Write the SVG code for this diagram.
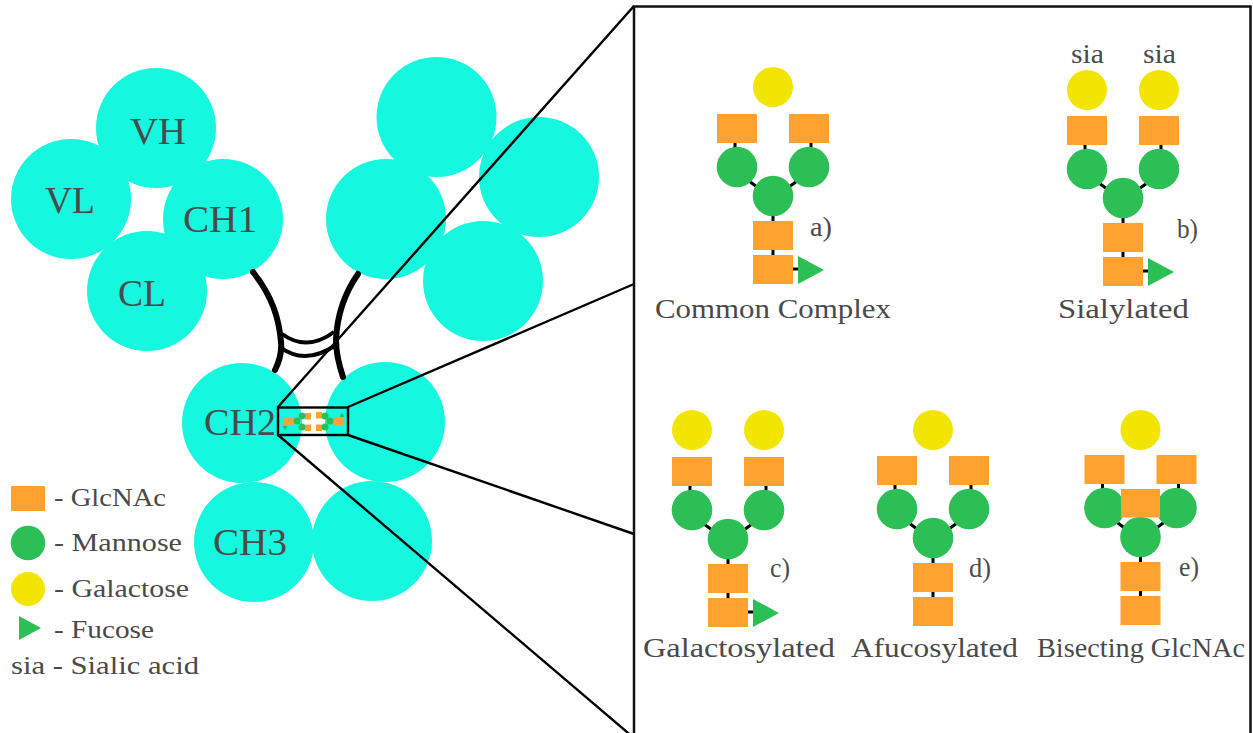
<svg xmlns="http://www.w3.org/2000/svg" xmlns:xlink="http://www.w3.org/1999/xlink" width="1253" height="733" viewBox="0 0 1253 733">
<style>
text{font-family:"Liberation Serif","DejaVu Serif",serif;fill:#4a4a4a}
.dom{fill:#16f7df}
.big{font-size:37px}
.cap{font-size:27px}
.leg{font-size:25px}
.tag{font-size:27px}
.glc{fill:#ffa230}
.man{fill:#2cbf55}
.gal{fill:#f2e500}
.fuc{fill:#2cbf55}
.bond{fill:none;stroke:#000;stroke-width:3}
.arm{fill:none;stroke:#000;stroke-width:6;stroke-linecap:round}
.brg{fill:none;stroke:#000;stroke-width:4}
.zoom{fill:none;stroke:#000;stroke-width:2.400}
</style>
<defs>
<!-- Shared glycan parts, placed around the core mannose of the first structure -->
<g id="core">
<rect class="glc" x="717" y="114" width="40" height="29"/>
<rect class="glc" x="789" y="114" width="40" height="29"/>
<circle class="man" cx="737" cy="167" r="20.300"/>
<circle class="man" cx="809" cy="167" r="20.300"/>
<circle class="man" cx="773" cy="196" r="20.300"/>
<rect class="glc" x="753" y="221" width="40" height="29"/>
<rect class="glc" x="753" y="255" width="40" height="29"/>
</g>
<path id="bonds" class="bond" d="M735 143V150M811 143V150M749 181L761 190M797 181L785 190M773 216V221M773 250V255"/>
<path id="fucose-bond" class="bond" d="M793 269H799"/>
<polygon id="fucose" class="fuc" points="798,256 824,270 798,284"/>
<circle id="galactose" class="gal" cx="773" cy="87" r="20"/>
</defs>

<g id="dom-vh"><circle class="dom" cx="156" cy="128" r="60"/></g>
<g id="dom-vl"><circle class="dom" cx="71" cy="199" r="60"/></g>
<g id="dom-cl"><circle class="dom" cx="147" cy="291" r="60"/></g>
<g id="dom-ch1"><circle class="dom" cx="223" cy="219" r="60"/></g>
<g id="dom-top-a"><circle class="dom" cx="436.500" cy="117" r="60"/></g>
<g id="dom-top-b"><circle class="dom" cx="539" cy="177" r="60"/></g>
<g id="dom-top-c"><circle class="dom" cx="386" cy="219" r="60"/></g>
<g id="dom-top-d"><circle class="dom" cx="483" cy="281" r="60"/></g>
<g id="dom-ch2"><circle class="dom" cx="242" cy="423" r="60"/></g>
<g id="dom-ch2b"><circle class="dom" cx="385" cy="422" r="60"/></g>
<g id="dom-ch3"><circle class="dom" cx="254" cy="542" r="60"/></g>
<g id="dom-ch3b"><circle class="dom" cx="372" cy="541" r="60"/></g>

<g id="domain-labels">
<text class="big" x="130" y="144" textLength="56" lengthAdjust="spacingAndGlyphs">VH</text>
<text class="big" x="45" y="213" textLength="50" lengthAdjust="spacingAndGlyphs">VL</text>
<text class="big" x="183" y="232" textLength="74" lengthAdjust="spacingAndGlyphs">CH1</text>
<text class="big" x="118" y="306" textLength="48" lengthAdjust="spacingAndGlyphs">CL</text>
<text class="big" x="204" y="435" textLength="72" lengthAdjust="spacingAndGlyphs">CH2</text>
<text class="big" x="213" y="555" textLength="74" lengthAdjust="spacingAndGlyphs">CH3</text>
</g>

<!-- Glycans sitting in the CH2 gap -->
<g id="inset-glycans">
<rect class="glc" x="283" y="418" width="10.500" height="7"/>
<rect class="glc" x="333.500" y="418" width="10.500" height="7"/>
<rect class="glc" x="305" y="413" width="6" height="6.500"/>
<rect class="glc" x="305" y="424.500" width="6" height="6.500"/>
<rect class="glc" x="316" y="412" width="6" height="6.500"/>
<rect class="glc" x="316" y="424.500" width="6" height="6.500"/>
<circle class="man" cx="297" cy="421" r="3.500"/>
<circle class="man" cx="302" cy="416" r="3.500"/>
<circle class="man" cx="302" cy="427" r="3.500"/>
<circle class="man" cx="325" cy="416" r="3.500"/>
<circle class="man" cx="330" cy="421" r="3.500"/>
<circle class="man" cx="325" cy="427" r="3.500"/>
<polygon class="fuc" points="282.500,426 287.500,426 285,430.500"/>
<polygon class="fuc" points="339.500,417 344.500,417 342,412.500"/>
</g>

<g id="connectors">
<path class="arm" d="M253 272C272 296 279 318 281 342C282 352 279 362 275 370"/>
<path class="arm" d="M358 274C344 294 337 316 336 340C336 352 339 365 343 377"/>
<path class="brg" d="M282 334Q307 352 334 332"/>
<path class="brg" d="M280 347Q305 366 336 345"/>
<path class="zoom" d="M278 407L634 6M348 407L634 284M348 435L634 534M278 435L634 738"/>
<use xlink:href="#bonds"/><use xlink:href="#fucose-bond"/>
<use xlink:href="#bonds" transform="translate(350 2)"/><use xlink:href="#fucose-bond" transform="translate(350 2)"/>
<use xlink:href="#bonds" transform="translate(-45 343)"/><use xlink:href="#fucose-bond" transform="translate(-45 343)"/>
<use xlink:href="#bonds" transform="translate(160 342)"/>
<use xlink:href="#bonds" transform="translate(367.500 341)"/>
</g>

<g id="inset-box"><rect x="278" y="407.500" width="70" height="27.500" fill="none" stroke="#000" stroke-width="2.400"/></g>

<g id="panel"><path d="M634 733V6.500H1250.500V733" fill="none" stroke="#111" stroke-width="2.500"/></g>

<g id="glycan-a">
<use xlink:href="#galactose"/><use xlink:href="#core"/><use xlink:href="#fucose"/>
<text class="tag" x="810" y="236" textLength="22" lengthAdjust="spacingAndGlyphs">a)</text>
<text class="cap" x="655" y="318" textLength="236" lengthAdjust="spacingAndGlyphs">Common Complex</text>
</g>
<g id="glycan-b">
<use xlink:href="#galactose" transform="translate(314 3)"/><use xlink:href="#galactose" transform="translate(386 3)"/>
<g transform="translate(350 2)"><use xlink:href="#core"/><use xlink:href="#fucose"/></g>
<text class="tag" x="1071" y="63" textLength="33" lengthAdjust="spacingAndGlyphs">sia</text>
<text class="tag" x="1143" y="63" textLength="33" lengthAdjust="spacingAndGlyphs">sia</text>
<text class="tag" x="1177" y="238" textLength="21" lengthAdjust="spacingAndGlyphs">b)</text>
<text class="cap" x="1058" y="318" textLength="131" lengthAdjust="spacingAndGlyphs">Sialylated</text>
</g>
<g id="glycan-c">
<use xlink:href="#galactose" transform="translate(-81 343)"/><use xlink:href="#galactose" transform="translate(-9 343)"/>
<g transform="translate(-45 343)"><use xlink:href="#core"/><use xlink:href="#fucose"/></g>
<text class="tag" x="770" y="577" textLength="20" lengthAdjust="spacingAndGlyphs">c)</text>
<text class="cap" x="643" y="657" textLength="192" lengthAdjust="spacingAndGlyphs">Galactosylated</text>
</g>
<g id="glycan-d">
<use xlink:href="#galactose" transform="translate(160 343)"/>
<use xlink:href="#core" transform="translate(160 342)"/>
<text class="tag" x="969" y="577" textLength="22" lengthAdjust="spacingAndGlyphs">d)</text>
<text class="cap" x="851" y="657" textLength="167" lengthAdjust="spacingAndGlyphs">Afucosylated</text>
</g>
<g id="glycan-e">
<use xlink:href="#galactose" transform="translate(367.500 343)"/>
<use xlink:href="#core" transform="translate(367.500 341)"/>
<rect class="glc" x="1121" y="489" width="39" height="28.500"/>
<text class="tag" x="1179" y="576" textLength="20" lengthAdjust="spacingAndGlyphs">e)</text>
<text class="cap" x="1037" y="657" textLength="208" lengthAdjust="spacingAndGlyphs">Bisecting GlcNAc</text>
</g>

<g id="legend">
<rect class="glc" x="11" y="486" width="34" height="25"/>
<circle class="man" cx="28" cy="543" r="17.300"/>
<circle class="gal" cx="28" cy="589" r="17"/>
<polygon class="fuc" points="19,616 41,628 19,640"/>
<text class="leg" x="54" y="506" textLength="112" lengthAdjust="spacingAndGlyphs">- GlcNAc</text>
<text class="leg" x="54" y="551" textLength="128" lengthAdjust="spacingAndGlyphs">- Mannose</text>
<text class="leg" x="54" y="597" textLength="135" lengthAdjust="spacingAndGlyphs">- Galactose</text>
<text class="leg" x="54" y="638" textLength="100" lengthAdjust="spacingAndGlyphs">- Fucose</text>
<text class="leg" x="11" y="674" textLength="188" lengthAdjust="spacingAndGlyphs">sia - Sialic acid</text>
</g>
</svg>
